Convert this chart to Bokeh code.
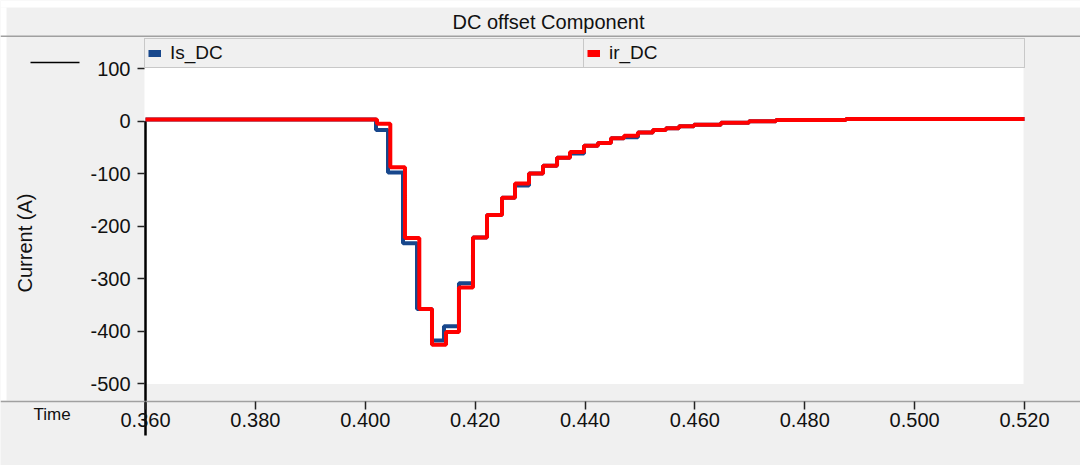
import math
from bokeh.plotting import figure
from bokeh.models import (Range1d, FixedTicker, PrintfTickFormatter, Legend, LegendItem,
                          Label, ColumnDataSource)
from bokeh.embed import file_html
from bokeh.resources import INLINE

# ---------------- data ----------------
title_text = "DC offset Component"
y_label = "Current (A)"
x_label = "Time"
series_names = ["Is_DC", "ir_DC"]

x_ticks = [0.36, 0.38, 0.40, 0.42, 0.44, 0.46, 0.48, 0.50, 0.52]
y_ticks = [-500, -400, -300, -200, -100, 0, 100]

# step edges (s) and levels (A) for ir_DC
t_red = [0.360, 0.40214, 0.40456, 0.40723, 0.40984, 0.41215, 0.41470, 0.41706, 0.41961,
         0.42216, 0.42489, 0.42726, 0.42981, 0.43236, 0.43491, 0.43727, 0.43982, 0.44236,
         0.44473, 0.44710, 0.44964, 0.45237, 0.45474, 0.45711, 0.45984, 0.46475, 0.46985,
         0.47476, 0.48750, 0.520]
ir_DC = [3, -5, -88, -223, -358, -426, -402, -317, -222,
         -179, -146, -119, -100, -85, -70, -59, -47, -42,
         -33, -28, -22, -17, -14, -10, -7, -3.5, -0.5,
         2, 4, 4]

# step edges (s) and levels (A) for Is_DC
t_blue = [0.360, 0.40196, 0.40414, 0.40687, 0.40942, 0.41215, 0.41433, 0.41706, 0.41961,
          0.42216, 0.42489, 0.42726, 0.42981, 0.43236, 0.43491, 0.43727, 0.43982, 0.44236,
          0.44473, 0.44710, 0.44964, 0.45237, 0.45474, 0.45711, 0.45984, 0.46475, 0.46985,
          0.47476, 0.48750, 0.520]
Is_DC = [3, -17, -98, -233, -358, -418, -391, -309, -222,
         -179, -146, -123, -100, -85, -70, -62, -47, -42,
         -33, -31, -22, -17, -14, -10, -7, -3.5, -0.5,
         2, 4, 4]

cursor_t = 0.360
plot_x_min, plot_x_max = 0.360, 0.520
plot_y_min, plot_y_max = -500, 100

# ---------------- style / layout ----------------
FONT = "Liberation Sans"
GRAY = "#f0f0f0"
EDGE = "#a0a0a0"
BLUE = "#17478c"
RED = "#ff0000"
TXT = "#111111"

W, H = 1080, 465
# pixel geometry of the reference: 0.360 -> x=145, 0.520 -> x=1024; 0 A -> y=120.5, 0.525 px/A
PX_X0, PX_X1 = 145.0, 1024.0
PX_Y0, PX_PER_A = 120.5, 0.525
KX = (plot_x_max - plot_x_min) / (PX_X1 - PX_X0)

def px2x(px):
    return plot_x_min + (px - PX_X0) * KX

def py2y(py):
    return (PX_Y0 - py) / PX_PER_A

p = figure(width=W, height=H, output_backend="svg", toolbar_location=None,
           x_range=Range1d(px2x(0), px2x(W)), y_range=Range1d(py2y(H), py2y(0)),
           min_border_left=0, min_border_right=0, min_border_top=0, min_border_bottom=0)
p.title.visible = False
p.border_fill_color = GRAY
p.background_fill_color = GRAY
p.outline_line_color = None
p.xgrid.visible = False
p.ygrid.visible = False

# ---- background panels ----
def band(l, r, t, b, color):
    p.quad(left=[px2x(l)], right=[px2x(r)], top=[py2y(t)], bottom=[py2y(b)],
           fill_color=color, line_color=None)

band(0, W, 0, 7, "white")              # white strip at top
band(0, 6, 7, 400, "white")            # white strip at left
band(144, 1023, 67, 383.5, "white")    # plotting area
band(0, W, 35, 36.5, EDGE)             # title bar separator

# ---- x axis (drawn inside the canvas at the separator line) ----
xa = p.xaxis[0]
xa.fixed_location = py2y(400.7)
xa.ticker = FixedTicker(ticks=x_ticks)
xa.formatter = PrintfTickFormatter(format="%.3f")
xa.axis_line_color = EDGE
xa.axis_line_width = 1.5
xa.major_tick_out = 8
xa.major_tick_in = 0
xa.minor_tick_out = 0
xa.minor_tick_in = 0
xa.major_tick_line_color = "#222222"
xa.major_tick_line_width = 1.5
xa.major_label_text_font = FONT
xa.major_label_text_font_size = "20px"
xa.major_label_text_color = TXT
xa.major_label_standoff = 4

# ---- y axis ----
ya = p.yaxis[0]
ya.fixed_location = px2x(144)
ya.ticker = FixedTicker(ticks=y_ticks)
ya.formatter = PrintfTickFormatter(format="%d")
ya.axis_line_color = None
ya.major_tick_out = 7
ya.major_tick_in = 0
ya.minor_tick_out = 0
ya.minor_tick_in = 0
ya.major_tick_line_color = "#222222"
ya.major_tick_line_width = 1.5
ya.major_label_text_font = FONT
ya.major_label_text_font_size = "20px"
ya.major_label_text_color = TXT
ya.major_label_standoff = 7

# ---- texts ----
p.add_layout(Label(x=px2x(548), y=py2y(21.5), text=title_text, text_align="center",
                   text_baseline="middle", text_font=FONT, text_font_size="20px",
                   text_color=TXT))
p.add_layout(Label(x=px2x(33), y=py2y(414), text=x_label, text_align="left",
                   text_baseline="middle", text_font=FONT, text_font_size="17px",
                   text_color=TXT))
p.add_layout(Label(x=px2x(24), y=py2y(242.5), text=y_label, angle=math.pi / 2,
                   text_align="center", text_baseline="middle", text_font=FONT,
                   text_font_size="20px", text_color=TXT))

# short black line at top-left and cursor line
p.segment(x0=[px2x(30)], y0=[py2y(62)], x1=[px2x(79)], y1=[py2y(62)],
          line_color="black", line_width=1.5)
p.segment(x0=[cursor_t], y0=[0], x1=[cursor_t], y1=[py2y(435)],
          line_color="black", line_width=2.5)

# ---- traces ----
p.step(t_blue, Is_DC, mode="after", line_color=BLUE, line_width=4)
p.step(t_red, ir_DC, mode="after", line_color=RED, line_width=4)

# ---- legends (two boxes side by side) ----
nan_src = ColumnDataSource(data=dict(x=[float("nan")], y=[float("nan")]))
pb = p.line(x="x", y="y", source=nan_src, line_color=BLUE, line_width=7)
pr = p.line(x="x", y="y", source=nan_src, line_color=RED, line_width=7)

def make_legend(label, rend, left_px, width_px):
    lw = width_px - 6 - 13 - 9
    return Legend(items=[LegendItem(label=label, renderers=[rend])],
                  location=(left_px, H - 67.8), orientation="horizontal", margin=0,
                  padding=3, spacing=0, glyph_width=13, glyph_height=20, label_standoff=9,
                  label_width=lw, label_height=20,
                  label_text_font=FONT, label_text_font_size="19px", label_text_color=TXT,
                  border_line_color=EDGE, border_line_width=1,
                  background_fill_color=GRAY, background_fill_alpha=1)

p.add_layout(make_legend(series_names[0], pb, 144, 439))
p.add_layout(make_legend(series_names[1], pr, 583, 440))

open("out.html", "w").write(file_html(p, INLINE))
